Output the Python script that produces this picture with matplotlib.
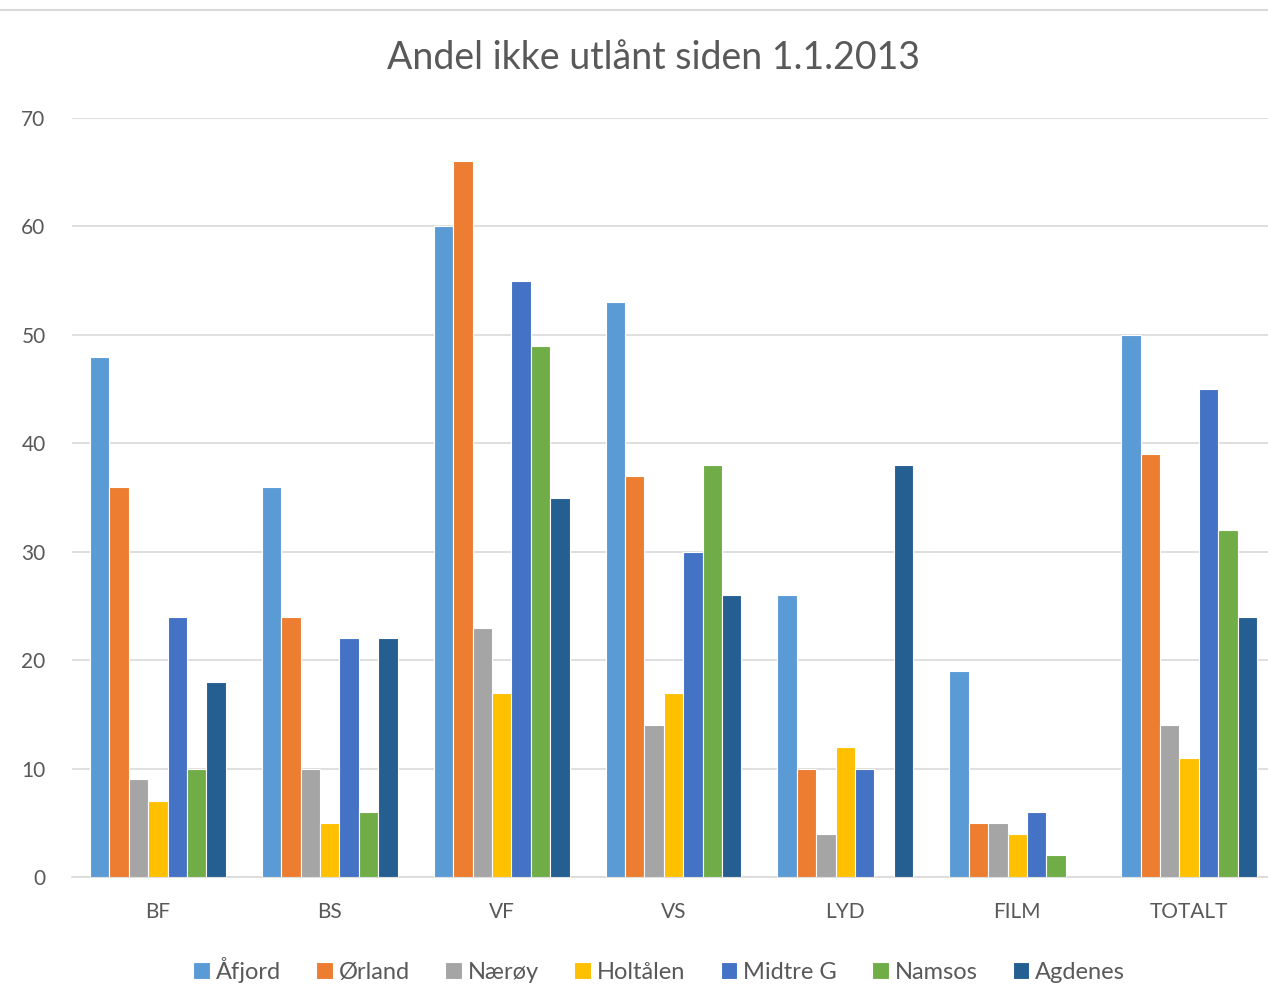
import numpy as np
import matplotlib
matplotlib.use('Agg')
import matplotlib.pyplot as plt

categories = ['BF', 'BS', 'VF', 'VS', 'LYD', 'FILM', 'TOTALT']
series_names = ['Åfjord', 'Ørland', 'Nærøy', 'Holtålen', 'Midtre G', 'Namsos', 'Agdenes']
afjord = [48, 36, 60, 53, 26, 19, 50]
orland = [36, 24, 66, 37, 10, 5, 39]
naeroy = [9, 10, 23, 14, 4, 5, 14]
holtalen = [7, 5, 17, 17, 12, 4, 11]
midtre_g = [24, 22, 55, 30, 10, 6, 45]
namsos = [10, 6, 49, 38, 0, 2, 32]
agdenes = [18, 22, 35, 26, 38, 0, 24]
colors = ['#5B9BD5', '#ED7D31', '#A5A5A5', '#FFC000', '#4472C4', '#70AD47', '#255E91']

series = [afjord, orland, naeroy, holtalen, midtre_g, namsos, agdenes]

plt.rcParams['font.family'] = ['Lato', 'DejaVu Sans']
text_color = '#595959'

fig = plt.figure(figsize=(12.68, 9.85), dpi=100)
ax = fig.add_axes([72 / 1268, 1 - 877 / 985, 1203 / 1268, (877 - 118) / 985])

x = np.arange(len(categories))
slot = 0.113
for i, (vals, name, c) in enumerate(zip(series, series_names, colors)):
    offs = (i - 3) * slot
    ax.bar(x + offs, vals, width=slot, color=c, edgecolor='white', linewidth=0.8, label=name, zorder=3)

ax.set_xlim(-0.5, 6.5)
ax.set_ylim(0, 70)
ax.set_yticks(range(0, 71, 10))
ax.set_xticks(x)
ax.set_xticklabels(categories)
ax.yaxis.grid(True, color='#D9D9D9', linewidth=1.2, zorder=0)
for s in ['top', 'right', 'left']:
    ax.spines[s].set_visible(False)
ax.spines['bottom'].set_color('#D9D9D9')
ax.spines['bottom'].set_linewidth(1.2)
ax.tick_params(axis='both', length=0, labelsize=15, colors=text_color)
ax.tick_params(axis='x', pad=18)
ax.tick_params(axis='y', pad=19)

fig.text(0.515, 1 - 58 / 985, 'Andel ikke utlånt siden 1.1.2013', ha='center', va='center',
         fontsize=27, color=text_color)

fig.legend(loc='center', bbox_to_anchor=(0.52, 1 - 970 / 985), ncol=7, frameon=False,
           fontsize=17, handlelength=0.7, handleheight=0.7, handletextpad=0.25,
           columnspacing=1.5, labelcolor=text_color)

fig.add_artist(plt.Line2D([0, 1], [1 - 10 / 985, 1 - 10 / 985], color='#D9D9D9', linewidth=1.5))

fig.savefig('out.png', dpi=100)
